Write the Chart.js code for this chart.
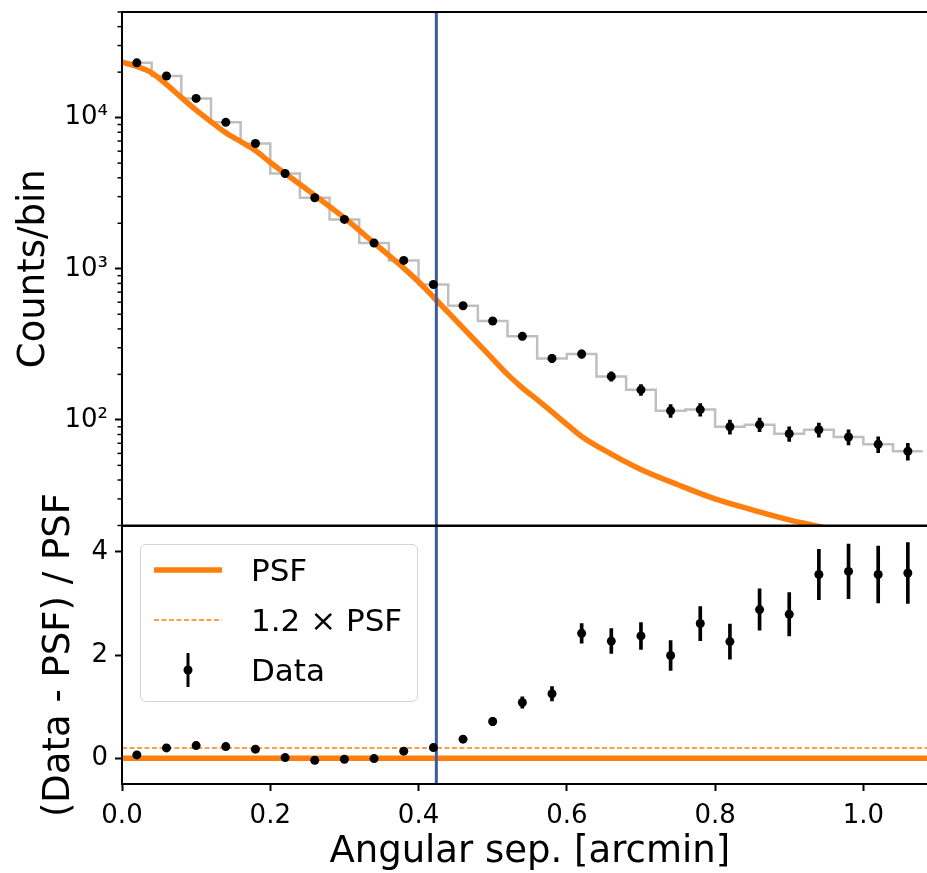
<!DOCTYPE html>
<html>
<head>
<meta charset="utf-8">
<script src="https://cdn.jsdelivr.net/npm/chart.js@4.4.1/dist/chart.umd.min.js"></script>
<style>
  html, body { margin: 0; padding: 0; background: #fff; overflow: hidden; }
  #wrap { position: relative; width: 942px; height: 873px; }
  #top { position: absolute; left: 0; top: 0; }
  #bottom { position: absolute; left: 0; top: 420px; }
  #legend {
    position: absolute; left: 140px; top: 544px; width: 276px; height: 156px;
    border: 1.5px solid #d4d4d4; border-radius: 6px; background: rgba(255,255,255,0.8);
    font-family: 'DejaVu Sans', sans-serif; font-size: 31px; color: #000;
  }
  #legend svg { position: absolute; left: 0; top: 0; }
  #legend span { position: absolute; left: 110px; line-height: 36px; white-space: nowrap; }
</style>
</head>
<body>
<div id="wrap">
  <canvas id="top" width="942" height="530"></canvas>
  <canvas id="bottom" width="942" height="453"></canvas>
  <div id="legend">
    <svg width="276" height="156">
      <line x1="13" y1="25" x2="81" y2="25" stroke="#ff7f0e" stroke-width="5.5"/>
      <line x1="13" y1="75" x2="81" y2="75" stroke="#ff7f0e" stroke-width="1.5" stroke-dasharray="5,2.5"/>
      <line x1="47" y1="108" x2="47" y2="142" stroke="#000" stroke-width="3"/>
      <circle cx="47" cy="125" r="4.5" fill="#000"/>
    </svg>
    <span style="top:7px">PSF</span>
    <span style="top:57px">1.2 × PSF</span>
    <span style="top:107px">Data</span>
  </div>
</div>
<script>
// radial profile bins (arcmin)
const binCenters = [0.02, 0.06, 0.10, 0.14, 0.18, 0.22, 0.26, 0.30, 0.34, 0.38, 0.42, 0.46, 0.50, 0.54,
  0.58, 0.62, 0.66, 0.70, 0.74, 0.78, 0.82, 0.86, 0.90, 0.94, 0.98, 1.02, 1.06];
const binWidth = 0.04;
const counts = [23050, 18850, 13400, 9310, 6740, 4270, 2950, 2120, 1480, 1135, 787, 569, 451, 357,
  255, 273, 194, 158, 115, 117, 90, 93, 81, 86, 77, 69, 62];
const countErr = [152, 137, 116, 96, 82, 65, 54, 46, 38, 34, 28, 24, 21, 19,
  16, 17, 14, 13, 11, 11, 9.5, 9.6, 9, 9.3, 8.8, 8.3, 7.9];

// PSF model curve
const psfX = [0.00, 0.02, 0.04, 0.06, 0.08, 0.10, 0.12, 0.14, 0.16, 0.18, 0.20, 0.22, 0.24, 0.26, 0.28,
  0.30, 0.32, 0.34, 0.36, 0.38, 0.40, 0.42, 0.44, 0.46, 0.48, 0.50, 0.52, 0.54, 0.56, 0.58, 0.60,
  0.62, 0.66, 0.70, 0.75, 0.80, 0.85, 0.90, 0.95, 1.00, 1.05, 1.10];
const psfY = [23300, 21800, 19800, 16600, 13600, 11200, 9400, 7950, 6950, 6050, 5050, 4270, 3620, 3060, 2580,
  2170, 1795, 1480, 1225, 1010, 820, 650, 514, 406, 321, 253, 200, 163, 136, 113, 93.5,
  77.7, 59.4, 47.0, 37.2, 30.0, 25.4, 21.8, 19.2, 16.6, 14.4, 12.6];

// (Data - PSF) / PSF
const resid = [0.064, 0.20, 0.245, 0.225, 0.175, 0.012, -0.04, -0.02, -0.008, 0.136, 0.206, 0.369, 0.711, 1.08,
  1.25, 2.42, 2.27, 2.37, 1.99, 2.61, 2.26, 2.88, 2.79, 3.56, 3.62, 3.56, 3.59];
const residErr = [0.01, 0.01, 0.012, 0.013, 0.015, 0.016, 0.018, 0.022, 0.026, 0.034, 0.043, 0.058, 0.08, 0.11,
  0.14, 0.19, 0.24, 0.26, 0.29, 0.33, 0.34, 0.40, 0.42, 0.49, 0.53, 0.55, 0.59];

const cutRadius = 0.424;
const psfScale = 1.2;
const xRange = [0, 1.1];
const countRange = [20, 50000];
const residRange = [-0.5, 4.5];
const xTicks = [0.0, 0.2, 0.4, 0.6, 0.8, 1.0];
const countTicks = [100, 1000, 10000];
const countTickLabels = ['10²', '10³', '10⁴'];
const residTicks = [0, 2, 4];

const ORANGE = '#ff7f0e';
const BLUE = '#3b5b9f';

Chart.defaults.font.family = "'DejaVu Sans', sans-serif";
Chart.defaults.color = '#000';

// minor log ticks 2..9 x 10^k inside the range
const minorTicks = [];
for (let d = 10; d <= 10000; d *= 10) {
  for (let m = 2; m <= 9; m++) {
    const v = m * d;
    if (v >= countRange[0] && v <= countRange[1]) minorTicks.push(v);
  }
}

const framePlugin = {
  id: 'frame',
  afterDatasetsDraw(chart, args, opts) {
    const { ctx, chartArea: a } = chart;
    ctx.save();
    ctx.strokeStyle = '#000';
    if (opts.minor) {
      const ys = chart.scales.y;
      ctx.lineWidth = 1.5;
      opts.minor.forEach(v => {
        const p = ys.getPixelForValue(v);
        ctx.beginPath();
        ctx.moveTo(a.left - 4.5, p);
        ctx.lineTo(a.left, p);
        ctx.stroke();
      });
    }
    ctx.lineWidth = 2;
    ctx.strokeRect(a.left, a.top, a.right - a.left, a.bottom - a.top);
    ctx.restore();
  }
};

const tickFont = { size: 26 };
const titleFont = { size: 37 };
const tickGrid = { display: true, drawOnChartArea: false, drawTicks: true, tickLength: 7, tickWidth: 2, tickColor: '#000' };

// keep Chart.js from reserving room for end labels
function noPad(s) {
  s.paddingTop = 0; s.paddingBottom = 0; s.paddingLeft = 0; s.paddingRight = 0;
}

// top panel
const stairs = binCenters.map((c, i) => ({ x: c - binWidth / 2, y: counts[i] }));
stairs.push({ x: binCenters[binCenters.length - 1] + binWidth / 2, y: counts[counts.length - 1] });

new Chart(document.getElementById('top'), {
  type: 'line',
  data: {
    datasets: [
      {
        type: 'scatter', data: binCenters.map((c, i) => ({ x: c, y: counts[i] })),
        pointRadius: 4.5, pointBackgroundColor: '#000', pointBorderWidth: 0, showLine: false
      },
      {
        type: 'bar', data: binCenters.map((c, i) => ({ x: c, y: [counts[i] - countErr[i], counts[i] + countErr[i]] })),
        backgroundColor: '#000', barThickness: 3, grouped: false, borderWidth: 0
      },
      {
        type: 'line', data: [{ x: cutRadius, y: countRange[0] }, { x: cutRadius, y: countRange[1] }],
        borderColor: BLUE, borderWidth: 3, pointRadius: 0
      },
      {
        type: 'line', data: psfX.map((x, i) => ({ x: x, y: psfY[i] })),
        borderColor: ORANGE, borderWidth: 5.5, pointRadius: 0, cubicInterpolationMode: 'monotone'
      },
      {
        type: 'line', data: stairs, stepped: 'before',
        borderColor: '#bfbfbf', borderWidth: 2.5, pointRadius: 0
      }
    ]
  },
  options: {
    responsive: false, animation: false, events: [],
    layout: { padding: { top: 12, right: 0, bottom: 4, left: 0 } },
    plugins: { legend: { display: false }, tooltip: { enabled: false }, frame: { minor: minorTicks } },
    scales: {
      x: { type: 'linear', min: xRange[0], max: xRange[1], offset: false, display: false },
      y: {
        type: 'logarithmic', min: countRange[0], max: countRange[1],
        afterBuildTicks: s => { s.ticks = countTicks.map(v => ({ value: v })); },
        afterFit: s => { s.width = 122; noPad(s); },
        ticks: { font: tickFont, padding: 7, autoSkip: false,
          callback: v => countTickLabels[countTicks.indexOf(v)] },
        grid: tickGrid, border: { display: false },
        title: { display: true, text: 'Counts/bin', font: titleFont, padding: { top: 12, bottom: 0 } }
      }
    }
  },
  plugins: [framePlugin]
});

// bottom panel
new Chart(document.getElementById('bottom'), {
  type: 'line',
  data: {
    datasets: [
      {
        type: 'scatter', data: binCenters.map((c, i) => ({ x: c, y: resid[i] })),
        pointRadius: 4.5, pointBackgroundColor: '#000', pointBorderWidth: 0, showLine: false
      },
      {
        type: 'bar', data: binCenters.map((c, i) => ({ x: c, y: [resid[i] - residErr[i], resid[i] + residErr[i]] })),
        backgroundColor: '#000', barThickness: 3, grouped: false, borderWidth: 0
      },
      {
        type: 'line', data: [{ x: cutRadius, y: residRange[0] }, { x: cutRadius, y: residRange[1] }],
        borderColor: BLUE, borderWidth: 3, pointRadius: 0
      },
      {
        type: 'line', data: xRange.map(x => ({ x: x, y: 0 })),
        borderColor: ORANGE, borderWidth: 5.5, pointRadius: 0
      },
      {
        type: 'line', data: xRange.map(x => ({ x: x, y: psfScale - 1 })),
        borderColor: ORANGE, borderWidth: 1.5, borderDash: [5, 2.5], pointRadius: 0
      }
    ]
  },
  options: {
    responsive: false, animation: false, events: [],
    layout: { padding: { top: 106, right: 0, bottom: 0, left: 0 } },
    plugins: { legend: { display: false }, tooltip: { enabled: false }, frame: {} },
    scales: {
      x: {
        type: 'linear', min: xRange[0], max: xRange[1], offset: false,
        afterBuildTicks: s => { s.ticks = xTicks.map(v => ({ value: v })); },
        afterFit: s => { s.height = 89; noPad(s); },
        ticks: { font: tickFont, padding: 10, autoSkip: false, maxRotation: 0,
          callback: v => v.toFixed(1) },
        grid: Object.assign({}, tickGrid, { offset: false }), border: { display: false },
        title: { display: true, text: 'Angular sep. [arcmin]', font: titleFont, padding: { top: 0, bottom: -2 } }
      },
      y: {
        type: 'linear', min: residRange[0], max: residRange[1],
        afterBuildTicks: s => { s.ticks = residTicks.map(v => ({ value: v })); },
        afterFit: s => { s.width = 122; noPad(s); },
        ticks: { font: tickFont, padding: 7, autoSkip: false },
        grid: tickGrid, border: { display: false },
        title: { display: true, text: '(Data - PSF) / PSF', font: titleFont, padding: { top: 37, bottom: 0 } }
      }
    }
  },
  plugins: [framePlugin]
});
</script>
</body>
</html>
